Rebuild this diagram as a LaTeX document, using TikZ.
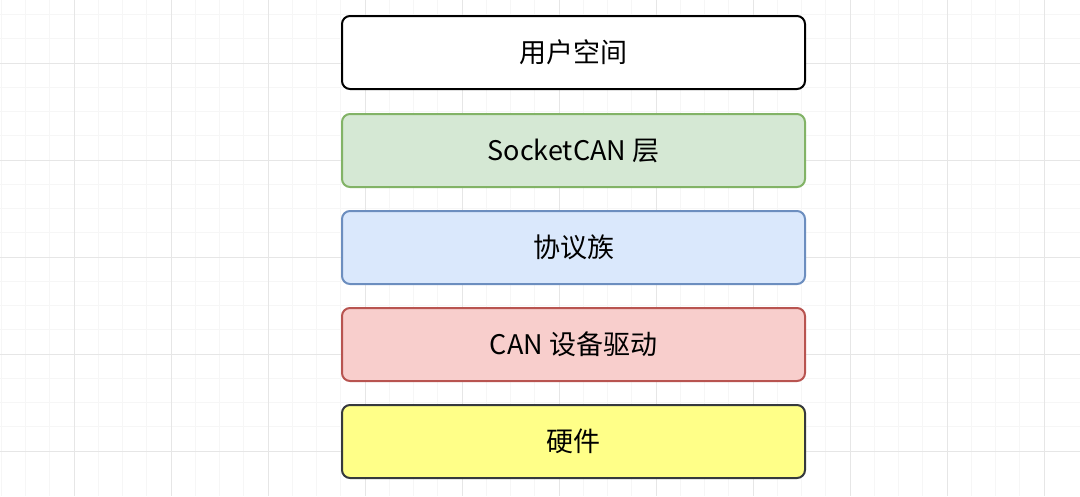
\documentclass[tikz,border=0pt]{standalone}
\usepackage{fontspec}
\setmainfont{Noto Sans CJK SC}
\definecolor{gfill}{HTML}{D5E8D4}\definecolor{gline}{HTML}{82B366}
\definecolor{bfill}{HTML}{DAE8FC}\definecolor{bline}{HTML}{6C8EBF}
\definecolor{rfill}{HTML}{F8CECC}\definecolor{rline}{HTML}{B85450}
\definecolor{yfill}{HTML}{FFFF88}\definecolor{yline}{HTML}{36393D}
\definecolor{minorg}{HTML}{F6F6F6}\definecolor{majorg}{HTML}{E6E6E6}
\begin{document}
\begin{tikzpicture}[x=1pt,y=-1pt,
  layer/.style={rounded corners=8pt,line width=2pt,minimum width=463pt,minimum height=73pt,inner sep=0pt,font=\fontsize{27}{30}\selectfont,anchor=north west}]
\useasboundingbox (0,0) rectangle (1080,496);
\fill[white] (0,0) rectangle (1080,496);
\foreach \i in {-4,...,44} {\draw[minorg,line width=0.8pt] ({-23+24.25*\i},0) -- ({-23+24.25*\i},496);}
\foreach \i in {-4,...,20} {\draw[minorg,line width=0.8pt] (0,{-34+24.25*\i}) -- (1080,{-34+24.25*\i});}
\foreach \i in {-1,...,11} {\draw[majorg,line width=1pt] ({74+97*\i},0) -- ({74+97*\i},496);}
\foreach \i in {-1,...,5} {\draw[majorg,line width=1pt] (0,{63+97*\i}) -- (1080,{63+97*\i});}
\node[layer,draw=black,fill=white] (user) at (341,15) {用户空间};
\node[layer,draw=gline,fill=gfill] (sock) at (341,113) {SocketCAN 层};
\node[layer,draw=bline,fill=bfill] (proto) at (341,210) {协议族};
\node[layer,draw=rline,fill=rfill] (drv) at (341,307) {CAN 设备驱动};
\node[layer,draw=yline,fill=yfill] (hw) at (341,404) {硬件};
\end{tikzpicture}
\end{document}
